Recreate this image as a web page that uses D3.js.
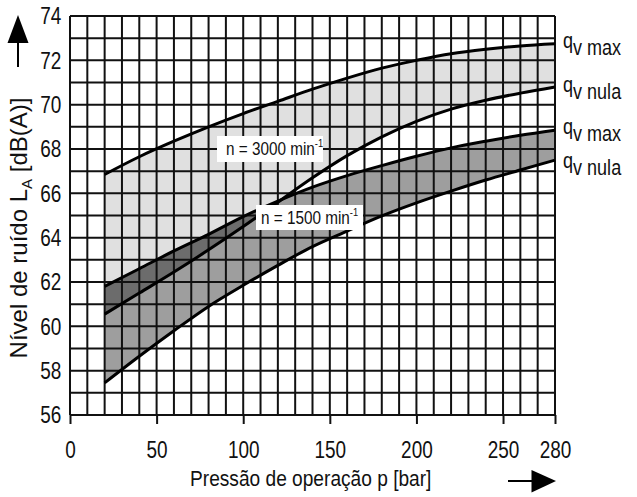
<!DOCTYPE html>
<html><head><meta charset="utf-8">
<script src="https://cdn.jsdelivr.net/npm/d3@7"></script>
<style>body{margin:0;background:#fff}svg{display:block}text{font-family:"Liberation Sans",Arial,sans-serif;fill:#111}</style>
</head><body><svg id="c" width="637" height="497"></svg>
<script>
// ---- data ----
const pressure   = [20, 40, 60, 80, 100, 120, 140, 160, 180, 200, 220, 240, 260, 280];
const n3000Max   = [66.85, 67.65, 68.35, 69.0, 69.6, 70.15, 70.7, 71.2, 71.65, 72.0, 72.3, 72.5, 72.65, 72.75];
const n3000Nula  = [60.55, 61.5, 62.45, 63.45, 64.5, 65.6, 66.7, 67.7, 68.55, 69.25, 69.8, 70.2, 70.52, 70.8];
const n1500Max   = [61.8, 62.6, 63.4, 64.15, 64.95, 65.65, 66.28, 66.8, 67.25, 67.67, 68.05, 68.35, 68.62, 68.85];
const n1500Nula  = [57.45, 58.65, 59.8, 60.9, 61.85, 62.75, 63.6, 64.3, 64.98, 65.57, 66.1, 66.6, 67.05, 67.5];
const xTicks = [0, 50, 100, 150, 200, 250, 280];
const yTicks = [56, 58, 60, 62, 64, 66, 68, 70, 72, 74];
const xGrid = d3.range(0, 281, 10);
const yGrid = d3.range(56, 75, 1);
const rightLabels = [
  {q: "q", sub: "v", txt: "max"},
  {q: "q", sub: "v", txt: "nula"},
  {q: "q", sub: "v", txt: "max"},
  {q: "q", sub: "v", txt: "nula"}
];

// ---- layout ----
const svg = d3.select("#c");
const x = d3.scaleLinear().domain([0, 280]).range([70, 555]);
const y = d3.scaleLinear().domain([56, 74]).range([415, 16]);

const band = (top, bot) => d3.area()
  .x((d, i) => x(pressure[i]))
  .y0((d, i) => y(bot[i]))
  .y1((d, i) => y(top[i]))
  .curve(d3.curveMonotoneX)(pressure);
const line = arr => d3.line().x((d, i) => x(pressure[i])).y((d, i) => y(arr[i])).curve(d3.curveMonotoneX)(pressure);

// fills
const defs = svg.append("defs");
defs.append("clipPath").attr("id", "lightClip").append("path").attr("d", band(n3000Max, n3000Nula));
svg.append("path").attr("d", band(n3000Max, n3000Nula)).attr("fill", "#e0e0e0");
svg.append("path").attr("d", band(n1500Max, n1500Nula)).attr("fill", "#9e9e9e");
svg.append("path").attr("d", band(n1500Max, n1500Nula)).attr("fill", "#6c6c6c").attr("clip-path", "url(#lightClip)");

// grid
const grid = svg.append("g").attr("stroke", "#111").attr("stroke-width", 2);
grid.selectAll(".v").data(xGrid).join("line")
  .attr("x1", d => x(d)).attr("x2", d => x(d)).attr("y1", y(74)).attr("y2", y(56));
grid.selectAll(".h").data(yGrid).join("line")
  .attr("x1", x(0)).attr("x2", x(280)).attr("y1", d => y(d)).attr("y2", d => y(d));

// curves
[n3000Max, n3000Nula, n1500Max, n1500Nula].forEach(arr => {
  svg.append("path").attr("d", line(arr)).attr("fill", "none").attr("stroke", "#000").attr("stroke-width", 3);
});

// axes
const xa = svg.append("g").attr("transform", `translate(0,${y(56)})`)
  .call(d3.axisBottom(x).tickValues(xTicks).tickSize(9).tickSizeOuter(0).tickPadding(17));
xa.select(".domain").remove();
xa.selectAll(".tick line").attr("stroke", "#111").attr("stroke-width", 2);
xa.selectAll(".tick text").attr("font-size", 24).attr("fill", "#111").attr("transform", "scale(0.79,1)")
  .style("font-family", '"Liberation Sans",Arial,sans-serif');

const ya = svg.append("g").attr("transform", `translate(${x(0)},0)`)
  .call(d3.axisLeft(y).tickValues(yTicks).tickSize(0).tickPadding(11));
ya.select(".domain").remove();
ya.selectAll(".tick text").attr("font-size", 24).attr("fill", "#111").attr("transform", "scale(0.79,1)")
  .style("font-family", '"Liberation Sans",Arial,sans-serif');

// axis titles
svg.append("text").attr("transform", "translate(190,486) scale(0.87,1)").attr("font-size", 22)
  .text("Pressão de operação p [bar]");
const yt = svg.append("text").attr("transform", "translate(27,228) rotate(-90)").attr("font-size", 24).attr("text-anchor", "middle");
yt.append("tspan").text("Nível de ruído L");
yt.append("tspan").attr("font-size", 15).attr("dy", 5).text("A");
yt.append("tspan").attr("dy", -5).text(" [dB(A)]");

// arrows
svg.append("line").attr("x1", 18).attr("x2", 18).attr("y1", 40).attr("y2", 67).attr("stroke", "#000").attr("stroke-width", 2);
svg.append("path").attr("d", "M18,15 L7.5,43 L28.5,43 Z").attr("fill", "#000");
svg.append("line").attr("x1", 508).attr("x2", 535).attr("y1", 481).attr("y2", 481).attr("stroke", "#000").attr("stroke-width", 2);
svg.append("path").attr("d", "M556,481 L531.5,470 L531.5,492.5 Z").attr("fill", "#000");

// speed labels
function speedLabel(bx, by, bw, bh, tx, ty, str) {
  svg.append("rect").attr("x", bx).attr("y", by).attr("width", bw).attr("height", bh).attr("fill", "#fff");
  const t = svg.append("text").attr("transform", `translate(${tx},${ty}) scale(0.85,1)`).attr("font-size", 18);
  t.append("tspan").text(str);
  t.append("tspan").attr("font-size", 11).attr("dy", -8).text("-1");
}
speedLabel(217, 136, 106, 26, 226, 155, "n = 3000 min");
speedLabel(256, 205, 107, 25, 261, 224, "n = 1500 min");

// right labels
const rBase = [55, 99, 141, 175];
rightLabels.forEach((d, i) => {
  const b = rBase[i];
  const t = svg.append("text").attr("transform", `translate(563,${b}) scale(0.82,1)`).attr("font-size", 22);
  t.append("tspan").attr("dy", -7).text(d.q);
  t.append("tspan").attr("dy", 7).text(d.sub);
  t.append("tspan").text(" " + d.txt);
});
</script>
</body></html>
